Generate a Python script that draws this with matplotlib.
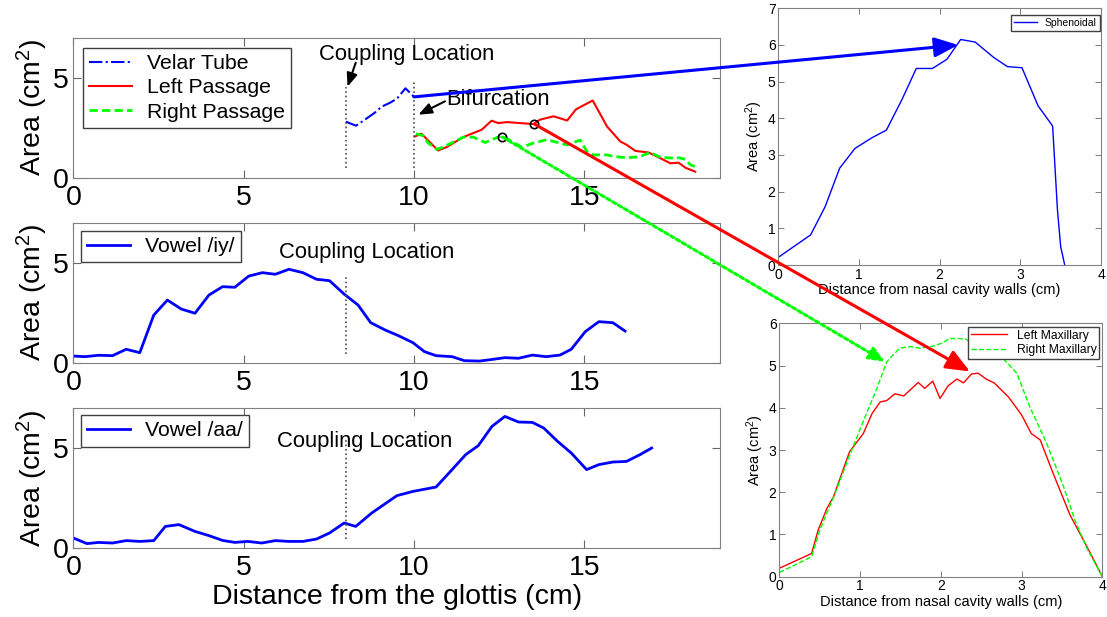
import numpy as np
import matplotlib
matplotlib.use('Agg')
import matplotlib.pyplot as plt
from matplotlib.patches import ConnectionPatch

plt.rcParams['font.family'] = ['Liberation Sans', 'DejaVu Sans']
plt.rcParams['mathtext.fontset'] = 'custom'
plt.rcParams['mathtext.rm'] = 'Liberation Sans'
plt.rcParams['mathtext.default'] = 'regular'
plt.rcParams['legend.fancybox'] = False
plt.rcParams['legend.framealpha'] = 1
plt.rcParams['legend.edgecolor'] = '0.25'


#? ================================= Dados - tubo velar e passagens nasais
velar_x = [8.0, 8.3, 8.6, 8.85, 9.05, 9.3, 9.5, 9.75, 10.0]
velar_y = [2.8, 2.6, 2.95, 3.25, 3.55, 3.75, 3.95, 4.47, 4.05]

esq_x = [10.03, 10.22, 10.71, 10.96, 11.45, 11.99, 12.28, 12.48, 12.73, 13.51, 13.7,
         14.1, 14.5, 14.76, 15.25, 15.67, 16.06, 16.25, 16.5, 16.89, 17.24, 17.53,
         17.77, 17.97, 18.26]
esq_y = [2.06, 2.2, 1.36, 1.53, 2.03, 2.4, 2.85, 2.73, 2.78, 2.68, 2.9,
         3.07, 2.86, 3.42, 3.86, 2.56, 1.81, 1.64, 1.34, 1.26, 0.97, 0.72,
         0.75, 0.5, 0.3]

dir_x = [10.06, 10.27, 10.42, 10.67, 10.86, 11.45, 11.74, 12.09, 12.33, 12.58, 12.92,
         13.17, 13.51, 13.9, 14.49, 14.88, 15.08, 15.27, 15.67, 15.86, 16.25, 16.6,
         16.94, 17.24, 17.68, 17.77, 17.97, 18.12, 18.26]
dir_y = [2.2, 2.1, 1.73, 1.42, 1.53, 2.03, 2.03, 1.76, 1.93, 2.1, 1.76,
         1.53, 1.73, 1.9, 1.64, 1.88, 1.31, 1.14, 1.14, 1.06, 1.0, 1.04,
         1.26, 1.02, 0.97, 1.0, 0.92, 0.64, 0.55]

circ_x = [12.6, 13.54]
circ_y = [2.03, 2.68]

#? ================================= Dados - vogais
iy_x = [0, 0.34, 0.74, 1.15, 1.55, 1.95, 2.36, 2.76, 3.17, 3.57, 3.98, 4.38, 4.74,
        5.15, 5.55, 5.93, 6.33, 6.74, 7.14, 7.52, 7.95, 8.36, 8.73, 9.16, 9.57,
        9.97, 10.31, 10.65, 11.12, 11.48, 11.93, 12.33, 12.67, 13.07, 13.48, 13.88,
        14.29, 14.62, 15.03, 15.43, 15.84, 16.2]
iy_y = [0.33, 0.3, 0.37, 0.35, 0.67, 0.5, 2.38, 3.13, 2.68, 2.47, 3.38, 3.8, 3.77,
        4.33, 4.5, 4.42, 4.67, 4.5, 4.17, 4.1, 3.43, 2.88, 2.0, 1.63, 1.33,
        1.0, 0.55, 0.35, 0.3, 0.1, 0.08, 0.17, 0.25, 0.22, 0.38, 0.3,
        0.38, 0.67, 1.55, 2.05, 2.0, 1.58]

aa_x = [0, 0.4, 0.74, 1.15, 1.55, 1.95, 2.36, 2.7, 3.1, 3.57, 3.98, 4.38, 4.74,
        5.12, 5.53, 5.93, 6.33, 6.74, 7.14, 7.52, 7.95, 8.29, 8.76, 9.16, 9.5,
        9.97, 10.65, 11.12, 11.52, 11.89, 12.29, 12.67, 13.07, 13.48, 13.81, 14.22,
        14.62, 15.07, 15.43, 15.84, 16.24, 16.64, 16.98]
aa_y = [0.5, 0.22, 0.28, 0.25, 0.37, 0.33, 0.37, 1.08, 1.17, 0.83, 0.62, 0.38, 0.28,
        0.33, 0.25, 0.37, 0.33, 0.33, 0.45, 0.75, 1.25, 1.08, 1.75, 2.22, 2.62,
        2.83, 3.05, 3.92, 4.67, 5.12, 6.08, 6.58, 6.3, 6.28, 6.0, 5.33,
        4.75, 3.92, 4.17, 4.3, 4.33, 4.67, 5.0]

#? ================================= Dados - seios paranasais
sph_x = [0, 0.40, 0.58, 0.76, 0.95, 1.16, 1.34, 1.53, 1.71, 1.91, 2.09, 2.26, 2.44,
         2.67, 2.84, 3.02, 3.22, 3.40, 3.46, 3.50, 3.55]
sph_y = [0.21, 0.82, 1.59, 2.64, 3.18, 3.47, 3.68, 4.5, 5.36, 5.36, 5.61, 6.15, 6.08,
         5.66, 5.41, 5.38, 4.34, 3.79, 1.5, 0.5, 0.0]

max_esq_x = [0, 0.40, 0.48, 0.59, 0.67, 0.87, 1.04, 1.15, 1.25, 1.33, 1.43, 1.54, 1.72,
             1.80, 1.90, 1.99, 2.09, 2.20, 2.28, 2.38, 2.46, 2.57, 2.66, 2.84, 3.0,
             3.12, 3.23, 3.39, 3.60, 3.81, 4.0]
max_esq_y = [0.2, 0.55, 1.1, 1.62, 1.89, 2.96, 3.39, 3.87, 4.14, 4.17, 4.33, 4.28, 4.6,
             4.46, 4.63, 4.22, 4.52, 4.68, 4.59, 4.8, 4.82, 4.67, 4.59, 4.25, 3.83,
             3.39, 3.24, 2.45, 1.46, 0.71, 0.0]

max_dir_x = [0, 0.40, 0.50, 0.69, 0.88, 1.08, 1.2, 1.33, 1.49, 1.62, 1.74, 1.91, 2.01,
             2.11, 2.22, 2.32, 2.40, 2.60, 2.77, 2.94, 3.10, 3.31, 3.52, 3.66, 3.81, 4.0]
max_dir_y = [0.1, 0.47, 1.1, 1.97, 2.92, 3.87, 4.42, 5.09, 5.41, 5.45, 5.41, 5.46, 5.53,
             5.64, 5.64, 5.62, 5.45, 5.35, 5.17, 4.82, 4.03, 3.16, 2.13, 1.34, 0.67, 0.0]

#? ================================= Marcações
acopl_x = 8.0
bifurc_x = 10.0
linha_acopl_p1 = [0.47, 4.55]
linha_bifurc_p1 = [0.47, 4.9]
linha_acopl_p2 = [0.43, 4.38]
linha_acopl_p3 = [0.45, 5.4]

seta_velar = ((10.0, 4.04), (2.23, 6.0))
seta_esq = ((13.54, 2.68), (2.36, 4.86))
seta_dir = ((12.6, 2.03), (1.31, 5.09))


def estilo_esq(ax):
    ax.set_xlim(0, 19)
    ax.set_ylim(0, 7)
    ax.set_xticks([0, 5, 10, 15])
    ax.set_yticks([0, 5])
    ax.tick_params(direction='in', top=True, right=True, labelsize=20.5,
                   length=6, color='0.4', width=0.8)
    ax.tick_params(axis='x', pad=5)
    ax.tick_params(axis='y', pad=3)
    for s in ax.spines.values():
        s.set_color('0.5')
    ax.set_ylabel('Area (cm$^2$)', fontsize=20.5)
    ax.yaxis.set_label_coords(-0.036, 0.5)


def estilo_dir(ax, ymax):
    ax.set_xlim(0, 4)
    ax.set_ylim(0, ymax)
    ax.set_xticks(np.arange(0, 5))
    ax.set_yticks(np.arange(0, ymax + 1))
    ax.tick_params(direction='in', top=True, right=True, labelsize=10,
                   length=4, color='0.4', width=0.6, pad=2)
    for s in ax.spines.values():
        s.set_color('0.5')
    ax.set_xlabel('Distance from nasal cavity walls (cm)', fontsize=10.5, labelpad=1)
    ax.set_ylabel('Area (cm$^2$)', fontsize=10.5)
    ax.yaxis.set_label_coords(-0.04, 0.5)


fig = plt.figure(figsize=(11.07, 6.17), dpi=100)
ax1 = fig.add_axes([0.0663, 0.7120, 0.5845, 0.2269])
ax2 = fig.add_axes([0.0663, 0.4122, 0.5845, 0.2269])
ax3 = fig.add_axes([0.0663, 0.1118, 0.5845, 0.2269])
ax_sph = fig.add_axes([0.7031, 0.5705, 0.2915, 0.4160])
ax_max = fig.add_axes([0.7040, 0.0653, 0.2918, 0.4107])

#? ================================= Painel 1
ax1.plot(velar_x, velar_y, '-.', color='#0000ff', lw=1.5, label='Velar Tube')
ax1.plot(esq_x, esq_y, '-', color='#ff0000', lw=1.5, label='Left Passage')
ax1.plot(dir_x, dir_y, '--', color='#00ff00', lw=2, dashes=(3, 1.5), label='Right Passage')
ax1.plot(circ_x, circ_y, 'o', mfc='none', mec='k', ms=6, mew=1.2)
ax1.plot([acopl_x, acopl_x], linha_acopl_p1, ':', color='0.3', lw=1.2)
ax1.plot([bifurc_x, bifurc_x], linha_bifurc_p1, ':', color='0.3', lw=1.2)
ax1.text(7.2, 6.17, 'Coupling Location', fontsize=15.8, va='center', ha='left')
ax1.annotate('', xy=(8.05, 4.55), xytext=(8.29, 5.75),
             arrowprops=dict(arrowstyle='-|>,head_length=0.5,head_width=0.2',
                             color='k', lw=1.5, mutation_scale=16,
                             shrinkA=0, shrinkB=0))
ax1.text(10.96, 3.9, 'Bifurcation', fontsize=15.8, va='center', ha='left')
ax1.annotate('', xy=(10.13, 3.15), xytext=(10.91, 3.82),
             arrowprops=dict(arrowstyle='-|>,head_length=0.5,head_width=0.2',
                             color='k', lw=1.5, mutation_scale=16,
                             shrinkA=0, shrinkB=0))
estilo_esq(ax1)
ax1.legend(loc='upper left', bbox_to_anchor=(0.0145, 0.928), borderaxespad=0,
           fontsize=15.3, handlelength=2.0, handletextpad=0.7, labelspacing=0.25,
           borderpad=0.3)

#? ================================= Painel 2
ax2.plot(iy_x, iy_y, '-', color='#0000ff', lw=2, label='Vowel /iy/')
ax2.plot([acopl_x, acopl_x], linha_acopl_p2, ':', color='0.3', lw=1.2)
ax2.text(6.04, 5.5, 'Coupling Location', fontsize=15.8, va='center', ha='left')
estilo_esq(ax2)
ax2.legend(loc='upper left', bbox_to_anchor=(0.0117, 0.943), borderaxespad=0,
           fontsize=15.3, handlelength=2.0, handletextpad=0.7, borderpad=0.3)

#? ================================= Painel 3
ax3.plot(aa_x, aa_y, '-', color='#0000ff', lw=2, label='Vowel /aa/')
ax3.plot([acopl_x, acopl_x], linha_acopl_p3, ':', color='0.3', lw=1.2)
ax3.text(5.97, 5.35, 'Coupling Location', fontsize=15.8, va='center', ha='left')
estilo_esq(ax3)
ax3.set_xlabel('Distance from the glottis (cm)', fontsize=20.5, labelpad=2)
ax3.legend(loc='upper left', bbox_to_anchor=(0.0117, 0.95), borderaxespad=0,
           fontsize=15.3, handlelength=2.0, handletextpad=0.7, borderpad=0.3)

#? ================================= Seios
ax_sph.plot(sph_x, sph_y, '-', color='#0000ff', lw=1, label='Sphenoidal')
estilo_dir(ax_sph, 7)
ax_sph.legend(loc='upper right', bbox_to_anchor=(0.997, 0.974), borderaxespad=0,
              fontsize=7.5, handlelength=2.2, borderpad=0.3)

ax_max.plot(max_esq_x, max_esq_y, '-', color='#ff0000', lw=1, label='Left Maxillary')
ax_max.plot(max_dir_x, max_dir_y, '--', color='#00ff00', lw=1, label='Right Maxillary')
estilo_dir(ax_max, 6)
ax_max.legend(loc='upper right', bbox_to_anchor=(0.991, 0.987), borderaxespad=0,
              fontsize=8.7, handlelength=3.0, borderpad=0.25, labelspacing=0.2)

#? ================================= Setas entre eixos
for (xyA, xyB), axA, axB, cor, ls, lw, ms in [
        (seta_velar, ax1, ax_sph, '#0000ff', '-', 2.2, 24),
        (seta_esq, ax1, ax_max, '#ff0000', '-', 2.2, 24),
        (seta_dir, ax1, ax_max, '#00ff00', (0, (1.2, 1.0)), 2.2, 16)]:
    con = ConnectionPatch(xyA=xyA, coordsA=axA.transData, xyB=xyB, coordsB=axB.transData,
                          arrowstyle='-|>,head_length=0.6,head_width=0.25',
                          mutation_scale=ms, color=cor, lw=lw, linestyle=ls,
                          shrinkA=0, shrinkB=0, zorder=10)
    fig.add_artist(con)

fig.savefig('out.png', dpi=100)
